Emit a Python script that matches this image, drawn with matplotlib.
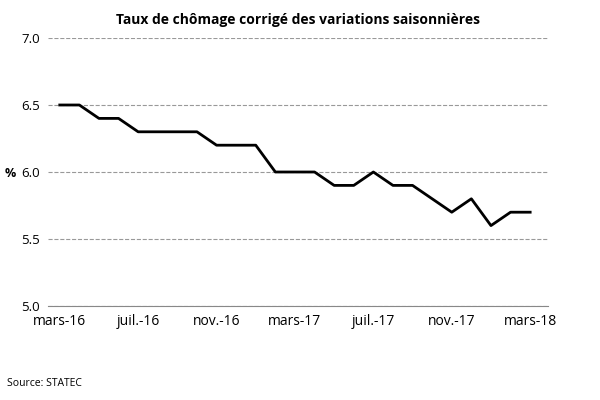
"""
Unemployment rate chart (seasonally adjusted)
"""

import matplotlib
matplotlib.use("Agg")
import matplotlib.pyplot as plt
import numpy as np

# ── Data ──────────────────────────────────────────────────────────────────────
MONTHS = ["mars-16", "avr.-16", "mai-16", "juin-16", "juil.-16", "août-16",
          "sept.-16", "oct.-16", "nov.-16", "déc.-16", "janv.-17", "févr.-17",
          "mars-17", "avr.-17", "mai-17", "juin-17", "juil.-17", "août-17",
          "sept.-17", "oct.-17", "nov.-17", "déc.-17", "janv.-18", "févr.-18",
          "mars-18"]
RATE = [6.5, 6.5, 6.4, 6.4, 6.3, 6.3, 6.3, 6.3, 6.2, 6.2, 6.2, 6.0,
        6.0, 6.0, 5.9, 5.9, 6.0, 5.9, 5.9, 5.8, 5.7, 5.8, 5.6, 5.7, 5.7]

# ── Plot ──────────────────────────────────────────────────────────────────────

def plot_rate():
    fig, ax = plt.subplots(figsize=(6, 4), dpi=100)
    fig.subplots_adjust(left=0.08, right=0.913, top=0.905, bottom=0.235)
    x = np.arange(len(RATE))
    ax.plot(x, RATE, color="black", linewidth=2)

    ax.set_ylim(5.0, 7.0)
    ax.set_yticks([5.0, 5.5, 6.0, 6.5, 7.0])
    ax.set_yticklabels([f"{v:.1f}" for v in [5.0, 5.5, 6.0, 6.5, 7.0]])
    ax.set_xlim(-0.6, len(RATE) - 0.1)
    ax.set_xticks(x[::4])
    ax.set_xticklabels(MONTHS[::4])
    ax.grid(axis="y", linestyle="--", color="#999999", linewidth=0.8)
    ax.set_axisbelow(True)
    for side in ["top", "right", "left"]:
        ax.spines[side].set_visible(False)
    ax.spines["bottom"].set_color("#888888")
    ax.tick_params(axis="y", length=0, labelsize=9.5, pad=6)
    ax.tick_params(axis="x", length=0, labelsize=10, pad=6)
    fig.text(0.008, 0.567, "%", fontsize=9, fontweight="bold", va="center")  # y-axis unit

    ax.set_title("Taux de chômage corrigé des variations saisonnières",
                 fontsize=10, fontweight="bold", pad=10)
    fig.text(0.012, 0.035, "Source: STATEC", fontsize=7.5)
    fig.savefig("out.png", dpi=100)
    plt.close(fig)


def main():
    plt.rcParams["font.family"] = ["Open Sans", "DejaVu Sans"]
    plot_rate()

if __name__ == "__main__":
    main()
